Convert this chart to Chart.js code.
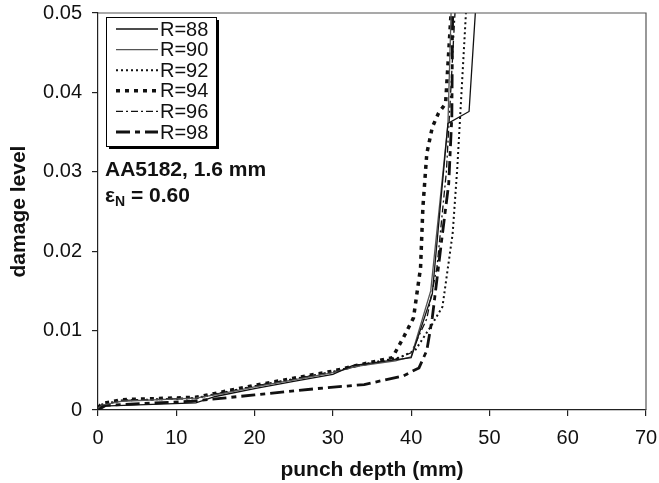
<!DOCTYPE html>
<html lang="en">
<head>
  <meta charset="UTF-8" />
  <title>damage level vs punch depth</title>
  <script src="https://cdn.jsdelivr.net/npm/chart.js"></script>
  <style>
    html, body { margin: 0; padding: 0; background: #fff; }
    #wrap { width: 659px; height: 483px; }
  </style>
</head>
<body>
  <div id="wrap"><canvas id="damageChart" width="659" height="483"></canvas></div>

  <script>
    // series: punch depth (mm) and damage level
    const r88Depth  = [0, 0.5, 12.5, 15, 20, 25, 30, 32.5, 40, 42.7, 44.7, 47.4, 48.2];
    const r88Damage = [0, 0.0005, 0.0009, 0.0017, 0.0027, 0.0036, 0.0045, 0.0056, 0.0066, 0.0146, 0.0361, 0.0376, 0.05];

    const r90Depth  = [0, 0.5, 3, 12.5, 16, 20, 25, 30, 33, 38, 40, 42.5, 44.7, 45.1];
    const r90Damage = [0.0002, 0.0006, 0.0011, 0.0015, 0.0021, 0.0029, 0.0038, 0.0047, 0.0055, 0.0062, 0.0067, 0.0150, 0.0360, 0.05];

    const r92Depth  = [0, 0.5, 3, 12.5, 16, 20, 25, 30, 33, 38.5, 40.5, 42.5, 44, 45.3, 45.9, 47];
    const r92Damage = [0.0002, 0.0007, 0.0012, 0.0015, 0.0022, 0.0030, 0.0039, 0.0048, 0.0056, 0.0066, 0.0075, 0.0105, 0.0130, 0.0222, 0.0306, 0.05];

    const r94Depth  = [0, 0.5, 3, 12.5, 16, 20, 25, 30, 33, 37.6, 39, 40.3, 41.2, 41.5, 42, 42.7, 43.5, 44.4, 45.1];
    const r94Damage = [0.0003, 0.0008, 0.0013, 0.0016, 0.0023, 0.0031, 0.0040, 0.0049, 0.0056, 0.0066, 0.0091, 0.0116, 0.0179, 0.0255, 0.0323, 0.0356, 0.0374, 0.0386, 0.05];

    const r96Depth  = [0, 0.5, 3, 12.5, 16, 20, 25, 30, 33, 38, 40, 42, 43.3, 44.5, 45.6];
    const r96Damage = [0.0002, 0.0006, 0.0012, 0.0015, 0.0022, 0.0030, 0.0039, 0.0048, 0.0055, 0.0064, 0.0072, 0.0115, 0.0180, 0.0300, 0.05];

    const r98Depth  = [0, 1, 12, 20, 28, 34, 39, 41, 42, 42.7, 44, 44.8, 45.2, 45.3];
    const r98Damage = [0, 0.0006, 0.0011, 0.0019, 0.0027, 0.0032, 0.0043, 0.0053, 0.0075, 0.0116, 0.0222, 0.0285, 0.0370, 0.05];

    const seriesLabels = ["R=88", "R=90", "R=92", "R=94", "R=96", "R=98"];
    const xTicks = [0, 10, 20, 30, 40, 50, 60, 70];
    const yTicks = [0, 0.01, 0.02, 0.03, 0.04, 0.05];

    const FONT = "'Liberation Sans', Arial, Helvetica, sans-serif";

    const toPoints = (xs, ys) => xs.map((x, i) => ({ x: x, y: ys[i] }));

    // line looks, same order as seriesLabels
    const looks = [
      { color: '#111', width: 1.3, dash: [] },
      { color: '#555', width: 1.3, dash: [] },
      { color: '#111', width: 2,   dash: [2, 3] },
      { color: '#111', width: 3.5, dash: [4, 5] },
      { color: '#111', width: 1.3, dash: [7, 3, 2, 3] },
      { color: '#111', width: 2.8, dash: [14, 5, 5, 5] }
    ];

    const allData = [
      toPoints(r88Depth, r88Damage),
      toPoints(r90Depth, r90Damage),
      toPoints(r92Depth, r92Damage),
      toPoints(r94Depth, r94Damage),
      toPoints(r96Depth, r96Damage),
      toPoints(r98Depth, r98Damage)
    ];

    const datasets = seriesLabels.map((lab, i) => ({
      label: lab,
      data: allData[i],
      borderColor: looks[i].color,
      borderWidth: looks[i].width,
      borderDash: looks[i].dash,
      pointRadius: 0,
      fill: false,
      tension: 0
    }));

    // box, legend and note inside the plot
    const boxPlugin = {
      id: 'boxPlugin',
      afterDraw(chart) {
        const ctx = chart.ctx;
        const a = chart.chartArea;
        ctx.save();

        // top and right frame
        ctx.strokeStyle = '#555';
        ctx.lineWidth = 1.2;
        ctx.beginPath();
        ctx.moveTo(a.left, a.top);
        ctx.lineTo(a.right, a.top);
        ctx.lineTo(a.right, a.bottom);
        ctx.stroke();

        // legend box with shadow
        const bx = 106, by = 17, bw = 110, bh = 129;
        ctx.fillStyle = '#000';
        ctx.fillRect(bx + 3, by + 3, bw, bh);
        ctx.fillStyle = '#fff';
        ctx.fillRect(bx, by, bw, bh);
        ctx.strokeStyle = '#000';
        ctx.lineWidth = 1;
        ctx.strokeRect(bx + 0.5, by + 0.5, bw, bh);

        ctx.font = '20px ' + FONT;
        ctx.textBaseline = 'middle';
        ctx.textAlign = 'left';
        seriesLabels.forEach((lab, i) => {
          const yy = 29 + i * 20.6;
          ctx.strokeStyle = looks[i].color;
          ctx.lineWidth = looks[i].width;
          ctx.setLineDash(looks[i].dash);
          ctx.beginPath();
          ctx.moveTo(116, yy);
          ctx.lineTo(158, yy);
          ctx.stroke();
          ctx.setLineDash([]);
          ctx.fillStyle = '#111';
          ctx.fillText(lab, 160, yy + 1);
        });

        // note
        ctx.fillStyle = '#111';
        ctx.font = 'bold 21px ' + FONT;
        ctx.fillText('AA5182, 1.6 mm', 105, 170);
        ctx.fillText('\u03b5', 105, 196);
        const ew = ctx.measureText('\u03b5').width;
        ctx.font = 'bold 14px ' + FONT;
        ctx.fillText('N', 105 + ew, 202);
        const nw = ctx.measureText('N').width;
        ctx.font = 'bold 21px ' + FONT;
        ctx.fillText(' = 0.60', 105 + ew + nw, 196);

        ctx.restore();
      }
    };

    new Chart(document.getElementById('damageChart'), {
      type: 'line',
      data: { datasets: datasets },
      options: {
        responsive: false,
        animation: false,
        layout: { padding: { top: 13, right: 13, left: 0, bottom: 0 } },
        plugins: {
          legend: { display: false },
          tooltip: { enabled: false }
        },
        scales: {
          x: {
            type: 'linear',
            min: 0,
            max: 70,
            afterBuildTicks: (s) => { s.ticks = xTicks.map(v => ({ value: v })); },
            afterFit: (s) => {
              s.height = 73;
              s.paddingLeft = 0;
              s.paddingRight = 0;
            },
            ticks: {
              color: '#111',
              font: { family: FONT, size: 20 },
              padding: 10,
              maxRotation: 0
            },
            grid: { drawOnChartArea: false, drawTicks: true, tickLength: 6, color: '#222', lineWidth: 1.2 },
            border: { color: '#222', width: 1.2 },
            title: {
              display: true,
              text: 'punch depth (mm)',
              color: '#111',
              font: { family: FONT, size: 21, weight: 'bold' },
              padding: { top: 0, bottom: 0 }
            }
          },
          y: {
            type: 'linear',
            min: 0,
            max: 0.05,
            afterBuildTicks: (s) => { s.ticks = yTicks.map(v => ({ value: v })); },
            afterFit: (s) => {
              s.width = 98;
              s.paddingTop = 0;
              s.paddingBottom = 0;
            },
            ticks: {
              color: '#111',
              font: { family: FONT, size: 20 },
              padding: 10,
              callback: (v) => v === 0 ? '0' : v.toFixed(2)
            },
            grid: { drawOnChartArea: false, drawTicks: true, tickLength: 6, color: '#222', lineWidth: 1.2 },
            border: { color: '#222', width: 1.2 },
            title: {
              display: true,
              text: 'damage level',
              color: '#111',
              font: { family: FONT, size: 21, weight: 'bold' },
              padding: { top: 7, bottom: 0 }
            }
          }
        }
      },
      plugins: [boxPlugin]
    });
  </script>
</body>
</html>
